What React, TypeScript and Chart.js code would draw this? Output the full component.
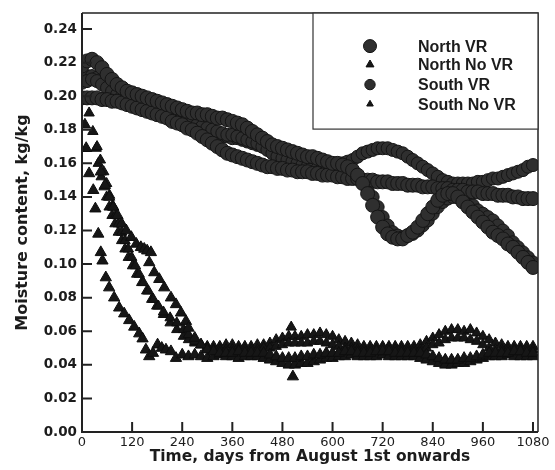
import React, { useEffect, useRef } from "react";
import { Chart, registerables } from "chart.js";

Chart.register(...registerables);

// ---------- axes ----------
const X_TICKS = [0, 120, 240, 360, 480, 600, 720, 840, 960, 1080];
const Y_TICKS = [0, 0.02, 0.04, 0.06, 0.08, 0.1, 0.12, 0.14, 0.16, 0.18, 0.2, 0.22, 0.24];
const X_MAX = 1092;
const Y_MAX = 0.2495;

const SERIES_LABELS = ["North VR", "North No VR", "South VR", "South No VR"];

// ---------- VR series (circles), sampled every 12 days ----------
const VR_DAYS = [
  0, 12, 24, 36, 48, 60, 72, 84, 96, 108,
  120, 132, 144, 156, 168, 180, 192, 204, 216, 228,
  240, 252, 264, 276, 288, 300, 312, 324, 336, 348,
  360, 372, 384, 396, 408, 420, 432, 444, 456, 468,
  480, 492, 504, 516, 528, 540, 552, 564, 576, 588,
  600, 612, 624, 636, 648, 660, 672, 684, 696, 708,
  720, 732, 744, 756, 768, 780, 792, 804, 816, 828,
  840, 852, 864, 876, 888, 900, 912, 924, 936, 948,
  960, 972, 984, 996, 1008, 1020, 1032, 1044, 1056, 1068,
  1080,
];

// North VR, position 1 (near-straight decline)
const NORTH_VR_1 = [
  0.199, 0.199, 0.199, 0.199, 0.198, 0.198, 0.197, 0.197, 0.196, 0.195,
  0.194, 0.193, 0.192, 0.191, 0.190, 0.189, 0.188, 0.187, 0.185, 0.184,
  0.183, 0.181, 0.180, 0.178, 0.176, 0.174, 0.172, 0.170, 0.168, 0.166,
  0.165, 0.164, 0.163, 0.162, 0.161, 0.160, 0.159, 0.158, 0.158, 0.157,
  0.157, 0.156, 0.156, 0.155, 0.155, 0.155, 0.154, 0.154, 0.153, 0.153,
  0.153, 0.152, 0.152, 0.151, 0.151, 0.151, 0.150, 0.150, 0.150, 0.149,
  0.149, 0.149, 0.148, 0.148, 0.148, 0.147, 0.147, 0.147, 0.146, 0.146,
  0.146, 0.145, 0.145, 0.145, 0.144, 0.144, 0.144, 0.143, 0.143, 0.143,
  0.142, 0.142, 0.142, 0.141, 0.141, 0.141, 0.140, 0.140, 0.139, 0.139,
  0.139,
];

// North VR, position 2 (dip around day 750, falls to 0.10)
const NORTH_VR_2 = [
  0.218, 0.221, 0.222, 0.220, 0.217, 0.213, 0.210, 0.207, 0.205, 0.203,
  0.202, 0.201, 0.200, 0.199, 0.198, 0.197, 0.196, 0.195, 0.194, 0.193,
  0.192, 0.191, 0.190, 0.190, 0.189, 0.189, 0.188, 0.187, 0.187, 0.186,
  0.185, 0.184, 0.183, 0.181, 0.179, 0.177, 0.175, 0.173, 0.171, 0.170,
  0.169, 0.168, 0.167, 0.166, 0.165, 0.164, 0.164, 0.163, 0.162, 0.161,
  0.160, 0.160, 0.159, 0.158, 0.156, 0.153, 0.148, 0.142, 0.135, 0.128,
  0.122, 0.118, 0.116, 0.115, 0.115, 0.117, 0.119, 0.122, 0.126, 0.130,
  0.134, 0.138, 0.141, 0.142, 0.142, 0.140, 0.137, 0.134, 0.131, 0.128,
  0.125, 0.122, 0.119, 0.117, 0.115, 0.112, 0.110, 0.107, 0.104, 0.101,
  0.098,
];

// South VR, position 1 (hump around day 720, ends near 0.16)
const SOUTH_VR_1 = [
  0.211, 0.212, 0.212, 0.211, 0.209, 0.207, 0.205, 0.204, 0.203, 0.201,
  0.200, 0.199, 0.198, 0.197, 0.196, 0.195, 0.194, 0.193, 0.191, 0.190,
  0.189, 0.187, 0.185, 0.183, 0.181, 0.180, 0.178, 0.177, 0.176, 0.176,
  0.175, 0.175, 0.174, 0.173, 0.172, 0.171, 0.170, 0.169, 0.168, 0.167,
  0.166, 0.165, 0.164, 0.163, 0.162, 0.162, 0.161, 0.160, 0.160, 0.159,
  0.159, 0.159, 0.160, 0.161, 0.162, 0.164, 0.166, 0.167, 0.168, 0.169,
  0.169, 0.169, 0.168, 0.167, 0.166, 0.164, 0.162, 0.160, 0.158, 0.156,
  0.154, 0.152, 0.150, 0.149, 0.148, 0.148, 0.148, 0.148, 0.148, 0.149,
  0.149, 0.150, 0.151, 0.151, 0.152, 0.153, 0.154, 0.155, 0.156, 0.158,
  0.159,
];

// South VR, position 2 (follows the dip, falls to 0.10)
const SOUTH_VR_2 = [
  0.208, 0.209, 0.210, 0.209, 0.207, 0.205, 0.203, 0.201, 0.200, 0.199,
  0.198, 0.197, 0.196, 0.195, 0.194, 0.193, 0.192, 0.191, 0.190, 0.188,
  0.187, 0.186, 0.184, 0.183, 0.182, 0.181, 0.180, 0.179, 0.178, 0.177,
  0.177, 0.176, 0.175, 0.174, 0.173, 0.172, 0.170, 0.168, 0.166, 0.164,
  0.163, 0.162, 0.161, 0.160, 0.159, 0.158, 0.158, 0.157, 0.157, 0.156,
  0.156, 0.156, 0.155, 0.155, 0.155, 0.152, 0.149, 0.145, 0.140, 0.134,
  0.128, 0.123, 0.119, 0.117, 0.116, 0.117, 0.118, 0.120, 0.123, 0.126,
  0.130, 0.134, 0.137, 0.139, 0.140, 0.140, 0.139, 0.137, 0.135, 0.132,
  0.130, 0.128, 0.126, 0.123, 0.120, 0.117, 0.113, 0.110, 0.107, 0.104,
  0.101,
];

// ---------- No VR series (triangles) ----------
// shared late-period sampling (every 15 days)
const NOVR_LATE_DAYS = [
  255, 270, 285, 300, 315, 330, 345, 360, 375, 390,
  405, 420, 435, 450, 465, 480, 495, 510, 525, 540,
  555, 570, 585, 600, 615, 630, 645, 660, 675, 690,
  705, 720, 735, 750, 765, 780, 795, 810, 825, 840,
  855, 870, 885, 900, 915, 930, 945, 960, 975, 990,
  1005, 1020, 1035, 1050, 1065, 1080,
];

// North No VR, position 1 (fastest drying)
const NORTH_NOVR_1_EARLY_DAYS = [7, 10, 17, 27, 32, 39, 45, 49, 57, 65, 77, 89, 101, 113, 125, 137, 145, 153, 161, 170, 181, 191, 201, 213, 225, 240];
const NORTH_NOVR_1_EARLY = [0.183, 0.169, 0.154, 0.144, 0.133, 0.118, 0.107, 0.102, 0.092, 0.086, 0.080, 0.074, 0.0705, 0.0665, 0.0626, 0.0586, 0.0556, 0.049, 0.045, 0.047, 0.052, 0.050, 0.049, 0.048, 0.044, 0.046];
const NORTH_NOVR_1_LATE = [
  0.045, 0.046, 0.045, 0.044, 0.045, 0.046, 0.045, 0.045, 0.044, 0.045,
  0.045, 0.045, 0.044, 0.043, 0.042, 0.041, 0.040, 0.040, 0.041, 0.041,
  0.042, 0.043, 0.044, 0.044, 0.045, 0.045, 0.046, 0.045, 0.045, 0.045,
  0.045, 0.046, 0.045, 0.045, 0.045, 0.045, 0.045, 0.044, 0.043, 0.042,
  0.041, 0.040, 0.040, 0.041, 0.041, 0.042, 0.043, 0.044, 0.045, 0.045,
  0.045, 0.046, 0.045, 0.045, 0.045, 0.045,
];
const NORTH_NOVR_EXTRA_DAYS = [505];
const NORTH_NOVR_EXTRA = [0.033];

// North No VR, position 2 (slowest drying)
const NORTH_NOVR_2_EARLY_DAYS = [45, 55, 65, 75, 85, 95, 106, 118, 130, 141, 149, 156, 161, 165, 173, 185, 197, 213, 225, 237, 249];
const NORTH_NOVR_2_EARLY = [0.155, 0.147, 0.140, 0.134, 0.129, 0.124, 0.120, 0.116, 0.112, 0.110, 0.109, 0.108, 0.101, 0.107, 0.095, 0.091, 0.086, 0.080, 0.076, 0.071, 0.066];
const NORTH_NOVR_2_LATE = [
  0.062, 0.056, 0.052, 0.049, 0.048, 0.047, 0.047, 0.047, 0.048, 0.047,
  0.047, 0.047, 0.047, 0.046, 0.045, 0.044, 0.044, 0.044, 0.045, 0.045,
  0.046, 0.046, 0.047, 0.047, 0.047, 0.048, 0.048, 0.047, 0.047, 0.047,
  0.048, 0.048, 0.048, 0.047, 0.047, 0.047, 0.047, 0.047, 0.046, 0.045,
  0.044, 0.043, 0.043, 0.043, 0.044, 0.044, 0.045, 0.046, 0.047, 0.047,
  0.047, 0.047, 0.048, 0.048, 0.047, 0.047,
];

// South No VR, position 1
const SOUTH_NOVR_1_EARLY_DAYS = [17, 26, 34, 39, 46, 53, 59, 65, 72, 79, 87, 95, 103, 111, 121, 131, 143, 155, 167, 179, 195, 211, 227, 243];
const SOUTH_NOVR_1_EARLY = [0.190, 0.179, 0.169, 0.160, 0.152, 0.146, 0.140, 0.134, 0.129, 0.124, 0.119, 0.114, 0.109, 0.104, 0.099, 0.094, 0.089, 0.084, 0.079, 0.075, 0.070, 0.065, 0.061, 0.057];
const SOUTH_NOVR_1_LATE = [
  0.055, 0.053, 0.052, 0.051, 0.051, 0.051, 0.052, 0.052, 0.051, 0.051,
  0.051, 0.052, 0.052, 0.053, 0.055, 0.056, 0.057, 0.057, 0.057, 0.058,
  0.058, 0.059, 0.058, 0.057, 0.055, 0.054, 0.053, 0.052, 0.051, 0.051,
  0.051, 0.051, 0.051, 0.051, 0.051, 0.051, 0.051, 0.052, 0.054, 0.056,
  0.058, 0.060, 0.061, 0.061, 0.060, 0.061, 0.059, 0.057, 0.055, 0.053,
  0.052, 0.051, 0.051, 0.051, 0.051, 0.051,
];
const SOUTH_NOVR_EXTRA_DAYS = [501];
const SOUTH_NOVR_EXTRA = [0.0625];

// South No VR, position 2
const SOUTH_NOVR_2_EARLY_DAYS = [36, 44, 52, 59, 66, 73, 80, 87, 95, 103, 111, 119, 128, 137, 147, 159, 171, 183, 195, 211, 227, 243];
const SOUTH_NOVR_2_EARLY = [0.170, 0.162, 0.155, 0.148, 0.141, 0.135, 0.129, 0.124, 0.119, 0.114, 0.109, 0.104, 0.099, 0.094, 0.089, 0.084, 0.079, 0.075, 0.0715, 0.068, 0.065, 0.061];
const SOUTH_NOVR_2_LATE = [
  0.058, 0.054, 0.052, 0.050, 0.049, 0.049, 0.049, 0.049, 0.049, 0.049,
  0.049, 0.049, 0.050, 0.050, 0.051, 0.052, 0.053, 0.053, 0.053, 0.053,
  0.054, 0.054, 0.053, 0.052, 0.051, 0.050, 0.050, 0.049, 0.049, 0.049,
  0.049, 0.050, 0.050, 0.049, 0.049, 0.049, 0.049, 0.049, 0.050, 0.052,
  0.053, 0.055, 0.056, 0.056, 0.056, 0.055, 0.054, 0.052, 0.050, 0.049,
  0.049, 0.049, 0.049, 0.049, 0.049, 0.049,
];

// ---------- helpers ----------
type Pt = { x: number; y: number };
const pts = (days: number[], vals: number[]): Pt[] => days.map((d, i) => ({ x: d, y: vals[i] }));

const FONT = "'DejaVu Sans', 'Liberation Sans', sans-serif";
const INK = "#1c1c1c";

const STYLE = {
  northVR: { style: "circle", r: 7, fill: "#2f2f2f", border: "#151515", lr: 6.5 },
  northNoVR: { style: "triangle", r: 6.5, fill: "#161616", border: "#0e0e0e", lr: 4.6 },
  southVR: { style: "circle", r: 6.5, fill: "#2f2f2f", border: "#151515", lr: 5.2 },
  southNoVR: { style: "triangle", r: 6, fill: "#161616", border: "#0e0e0e", lr: 3.8 },
};

export default function App() {
  const ref = useRef<HTMLCanvasElement>(null);

  useEffect(() => {
    const canvas = ref.current;
    if (!canvas) return;

    const styles = [STYLE.northVR, STYLE.northNoVR, STYLE.southVR, STYLE.southNoVR];

    const frameTicks = {
      id: "frameTicks",
      afterDatasetsDraw(chart: any) {
        const { ctx, chartArea, scales } = chart;
        const { left, right, top, bottom } = chartArea;
        ctx.save();
        ctx.strokeStyle = "#222";
        ctx.lineWidth = 1.5;
        ctx.beginPath();
        ctx.moveTo(left, top);
        ctx.lineTo(right, top);
        ctx.lineTo(right, bottom);
        ctx.stroke();
        ctx.lineWidth = 2;
        ctx.beginPath();
        ctx.moveTo(left, top);
        ctx.lineTo(left, bottom);
        ctx.lineTo(right, bottom);
        ctx.stroke();
        ctx.beginPath();
        X_TICKS.forEach((v) => {
          const px = scales.x.getPixelForValue(v);
          ctx.moveTo(px, bottom);
          ctx.lineTo(px, bottom - 10);
        });
        Y_TICKS.forEach((v) => {
          const py = scales.y.getPixelForValue(v);
          ctx.moveTo(left, py);
          ctx.lineTo(left + 10, py);
        });
        ctx.stroke();
        ctx.restore();
      },
    };

    const boxLegend = {
      id: "boxLegend",
      afterDraw(chart: any) {
        const { ctx, chartArea } = chart;
        const boxW = 225;
        const boxH = 116;
        const bx = chartArea.right - boxW;
        const by = chartArea.top;
        ctx.save();
        ctx.fillStyle = "#ffffff";
        ctx.fillRect(bx, by, boxW, boxH);
        ctx.strokeStyle = "#333";
        ctx.lineWidth = 1.2;
        ctx.strokeRect(bx, by, boxW, boxH);
        const rows = [33, 51.5, 71.5, 91];
        chart.data.datasets.forEach((ds: any, i: number) => {
          const st = styles[i];
          const cx = bx + 57;
          const cy = by + rows[i];
          ctx.fillStyle = st.fill;
          ctx.strokeStyle = st.border;
          ctx.lineWidth = 1;
          ctx.beginPath();
          if (st.style === "circle") {
            ctx.arc(cx, cy, st.lr, 0, Math.PI * 2);
          } else {
            const r = st.lr;
            let a = 0;
            ctx.moveTo(cx + Math.sin(a) * r, cy - Math.cos(a) * r);
            a += (Math.PI * 2) / 3;
            ctx.lineTo(cx + Math.sin(a) * r, cy - Math.cos(a) * r);
            a += (Math.PI * 2) / 3;
            ctx.lineTo(cx + Math.sin(a) * r, cy - Math.cos(a) * r);
            ctx.closePath();
          }
          ctx.fill();
          ctx.stroke();
          ctx.fillStyle = INK;
          ctx.font = "bold 16px 'Liberation Sans', Arial, sans-serif";
          ctx.textBaseline = "middle";
          ctx.textAlign = "left";
          ctx.fillText(ds.label, bx + 105, cy + 1);
        });
        ctx.restore();
      },
    };

    const mk = (label: string, data: Pt[], st: any) => ({
      label,
      data,
      pointStyle: st.style,
      pointRadius: st.r,
      pointHoverRadius: st.r,
      backgroundColor: st.fill,
      borderColor: st.border,
      borderWidth: 1,
      showLine: false,
    });

    const chart = new Chart(canvas, {
      type: "scatter",
      data: {
        datasets: [
          mk(SERIES_LABELS[0], [...pts(VR_DAYS, NORTH_VR_1), ...pts(VR_DAYS, NORTH_VR_2)], STYLE.northVR),
          mk(
            SERIES_LABELS[1],
            [
              ...pts(NORTH_NOVR_1_EARLY_DAYS, NORTH_NOVR_1_EARLY),
              ...pts(NOVR_LATE_DAYS, NORTH_NOVR_1_LATE),
              ...pts(NORTH_NOVR_2_EARLY_DAYS, NORTH_NOVR_2_EARLY),
              ...pts(NOVR_LATE_DAYS, NORTH_NOVR_2_LATE),
              ...pts(NORTH_NOVR_EXTRA_DAYS, NORTH_NOVR_EXTRA),
            ],
            STYLE.northNoVR
          ),
          mk(SERIES_LABELS[2], [...pts(VR_DAYS, SOUTH_VR_1), ...pts(VR_DAYS, SOUTH_VR_2)], STYLE.southVR),
          mk(
            SERIES_LABELS[3],
            [
              ...pts(SOUTH_NOVR_1_EARLY_DAYS, SOUTH_NOVR_1_EARLY),
              ...pts(NOVR_LATE_DAYS, SOUTH_NOVR_1_LATE),
              ...pts(SOUTH_NOVR_2_EARLY_DAYS, SOUTH_NOVR_2_EARLY),
              ...pts(NOVR_LATE_DAYS, SOUTH_NOVR_2_LATE),
              ...pts(SOUTH_NOVR_EXTRA_DAYS, SOUTH_NOVR_EXTRA),
            ],
            STYLE.southNoVR
          ),
        ],
      },
      options: {
        animation: false,
        responsive: false,
        maintainAspectRatio: false,
        layout: { padding: { left: 0, right: 17, top: 12, bottom: 0 } },
        plugins: {
          legend: { display: false },
          tooltip: { enabled: false },
        },
        scales: {
          x: {
            type: "linear",
            min: 0,
            max: X_MAX,
            afterFit: (s: any) => {
              s.height = 38;
            },
            afterBuildTicks: (s: any) => {
              s.ticks = X_TICKS.map((v) => ({ value: v }));
            },
            grid: { display: false, drawTicks: false },
            border: { display: false },
            ticks: {
              autoSkip: false,
              maxRotation: 0,
              padding: 3,
              color: INK,
              font: { family: FONT, size: 13 },
              callback: (v: any) => String(v),
            },
            title: {
              display: true,
              text: "Time, days from August 1st onwards",
              color: INK,
              font: { family: FONT, size: 15.5, weight: "bold" },
              padding: { top: 0, bottom: 4 },
            },
          },
          y: {
            type: "linear",
            min: 0,
            max: Y_MAX,
            afterFit: (s: any) => {
              s.width = 82;
            },
            afterBuildTicks: (s: any) => {
              s.ticks = Y_TICKS.map((v) => ({ value: v }));
            },
            grid: { display: false, drawTicks: false },
            border: { display: false },
            ticks: {
              autoSkip: false,
              padding: 5,
              color: INK,
              font: { family: FONT, size: 13.5, weight: "bold" },
              callback: (v: any) => Number(v).toFixed(2),
            },
            title: {
              display: true,
              text: "Moisture content, kg/kg",
              color: INK,
              font: { family: FONT, size: 16, weight: "bold" },
              padding: { top: 13, bottom: 0 },
            },
          },
        },
      },
      plugins: [frameTicks, boxLegend],
    } as any);

    return () => {
      chart.destroy();
    };
  }, []);

  return (
    <div style={{ position: "absolute", left: 0, top: 0, width: 555, height: 470, background: "#fff" }}>
      <canvas ref={ref} width={555} height={470} style={{ width: 555, height: 470, display: "block" }} />
    </div>
  );
}
